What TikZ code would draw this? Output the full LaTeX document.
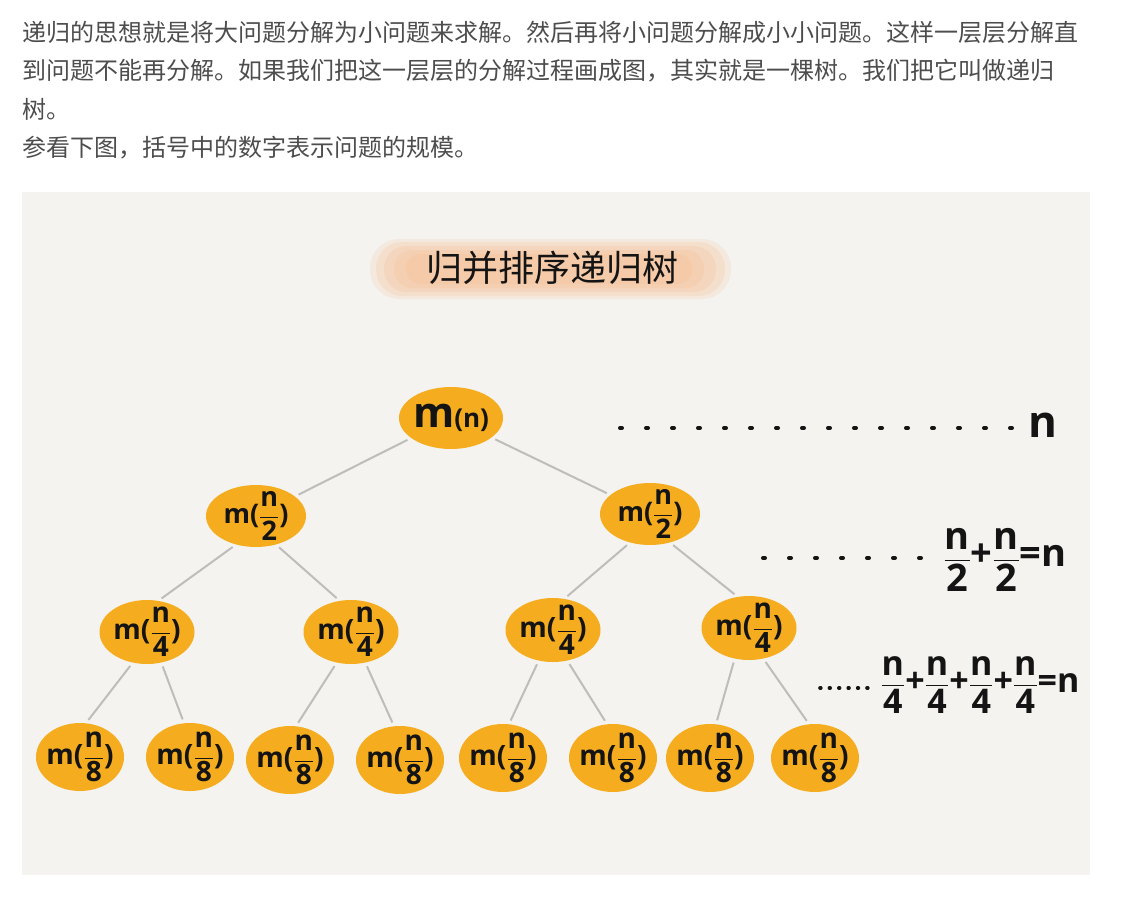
\documentclass[tikz,border=0pt]{standalone}
\usepackage{amsmath}
\usepackage{fontspec}
\setmainfont{Open Sans}
\newfontfamily\cjk{Noto Sans CJK SC}
\usetikzlibrary{shapes.geometric}
\definecolor{papel}{HTML}{F4F3EF}
\definecolor{naranja}{HTML}{F5AD1F}
\definecolor{melocoton}{HTML}{F7C39C}
\definecolor{gris}{HTML}{BDBDB9}
\definecolor{tinta}{HTML}{141414}
\definecolor{parrafo}{HTML}{4D4D4D}
\newcommand{\frq}[2]{$\dfrac{\mathbf{#1}}{\mathbf{#2}}$}
\tikzset{
  bola/.style={ellipse,fill=naranja,inner xsep=-7pt,inner ysep=-4pt,text=tinta},
  hoja/.style={bola,minimum width=88pt,minimum height=68pt,font=\bfseries\fontsize{28}{30}\selectfont},
  rama/.style={bola,minimum width=95pt,minimum height=64pt,font=\bfseries\fontsize{28}{30}\selectfont},
  tronco/.style={bola,minimum width=100pt,minimum height=62pt,font=\bfseries\fontsize{27}{30}\selectfont},
  raiz/.style={bola,minimum width=104pt,minimum height=62pt,font=\bfseries\fontsize{42}{44}\selectfont},
  arista/.style={draw=gris,line width=2pt,shorten <=4pt,shorten >=4pt},
  puntos/.style={draw=tinta,line width=4pt,line cap=round,dash pattern=on 2pt off 24pt},
  puntitos/.style={draw=tinta,line width=3.6pt,line cap=round,dash pattern=on 0.8pt off 8.6pt},
  suma/.style={inner sep=0pt,text=tinta,font=\bfseries\fontsize{34}{36}\selectfont},
  linea/.style={anchor=west,inner sep=0pt,text=parrafo,font=\cjk\fontsize{24}{28}\selectfont},
  mancha/.style={fill=melocoton,rounded corners=#1},
}

\begin{document}
\begin{tikzpicture}[x=1pt,y=-1pt]
\useasboundingbox (0,0) rectangle (1122,897);
\fill[white] (0,0) rectangle (1122,897);
% texto
\node[linea] (p1) at (22,32) {递归的思想就是将大问题分解为小问题来求解。然后再将小问题分解成小小问题。这样一层层分解直};
\node[linea] (p2) at (22,71) {到问题不能再分解。如果我们把这一层层的分解过程画成图，其实就是一棵树。我们把它叫做递归};
\node[linea] (p3) at (22,109) {树。};
\node[linea] (p4) at (22,148) {参看下图，括号中的数字表示问题的规模。};
% lienzo
\fill[papel] (22,192) rectangle (1090,875);
\fill[mancha=29pt,opacity=0.2] (370,239) rectangle (731,299);
\fill[mancha=26pt,opacity=0.25] (376,242) rectangle (725,296);
\fill[mancha=22pt,opacity=0.3] (384,246) rectangle (716,292);
\fill[mancha=18pt,opacity=0.35] (394,250) rectangle (704,288);
\fill[mancha=14pt,opacity=0.4] (406,254) rectangle (692,284);
\node[inner sep=0pt,text=tinta,font=\cjk\fontsize{36}{40}\selectfont] (titulo) at (552,268) {归并排序递归树};
% arbol
\node[raiz] (r0) at (451,418) {m{\fontsize{26}{28}\selectfont(n)}};
\node[tronco] (r1) at (256,516) {m(\frq{n}{2})};
\node[tronco] (r2) at (650,514) {m(\frq{n}{2})};
\node[rama] (r11) at (147,632) {m(\frq{n}{4})};
\node[rama] (r12) at (351,632) {m(\frq{n}{4})};
\node[rama] (r21) at (553,630) {m(\frq{n}{4})};
\node[rama] (r22) at (749,628) {m(\frq{n}{4})};
\node[hoja] (r111) at (80,757) {m(\frq{n}{8})};
\node[hoja] (r112) at (190,757) {m(\frq{n}{8})};
\node[hoja] (r121) at (290,760) {m(\frq{n}{8})};
\node[hoja] (r122) at (400,760) {m(\frq{n}{8})};
\node[hoja] (r211) at (503,758) {m(\frq{n}{8})};
\node[hoja] (r212) at (613,758) {m(\frq{n}{8})};
\node[hoja] (r221) at (710,758) {m(\frq{n}{8})};
\node[hoja] (r222) at (815,758) {m(\frq{n}{8})};
\draw[arista] (r0) -- (r1);
\draw[arista] (r0) -- (r2);
\draw[arista] (r1.-125) -- (r11.70);
\draw[arista] (r1.-55) -- (r12.110);
\draw[arista] (r2.-125) -- (r21.70);
\draw[arista] (r2.-55) -- (r22.110);
\draw[arista] (r11.-115) -- (r111.80);
\draw[arista] (r11.-65) -- (r112.100);
\draw[arista] (r12.-115) -- (r121.80);
\draw[arista] (r12.-65) -- (r122.100);
\draw[arista] (r21.-115) -- (r211.80);
\draw[arista] (r21.-65) -- (r212.100);
\draw[arista] (r22.-115) -- (r221.80);
\draw[arista] (r22.-65) -- (r222.100);
% sumas
\node[suma,font=\bfseries\fontsize{44}{46}\selectfont] (s1) at (1043,425) {n};
\node[suma,font=\bfseries\fontsize{38}{40}\selectfont] (s2) at (1005,560) {\frq{n}{2}+\frq{n}{2}=n};
\node[suma] (s3) at (980,685) {\frq{n}{4}+\frq{n}{4}+\frq{n}{4}+\frq{n}{4}=n};
\coordinate (d1) at (620,428);
\coordinate (d2) at (763,558);
\coordinate (d3) at (820,688);
\draw[puntos] (d1) -- ([xshift=-8pt]s1.west |- d1);
\draw[puntos] (d2) -- ([xshift=-18pt]s2.west |- d2);
\draw[puntitos] (d3) -- ([xshift=-8pt]s3.west |- d3);
\end{tikzpicture}
\end{document}
